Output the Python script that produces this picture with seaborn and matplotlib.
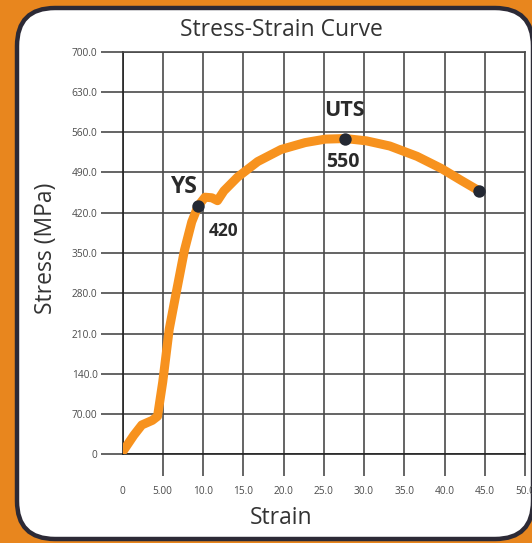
import matplotlib
matplotlib.use("Agg")
import matplotlib.pyplot as plt
import seaborn as sns
import pandas as pd
from matplotlib.patches import FancyBboxPatch

# ---------------- data ----------------
strain = [0.1, 1.4, 2.4, 3.7, 4.35, 5.0, 5.8, 6.7, 7.7, 8.6, 9.4, 10.25, 11.1, 11.8,
          12.6, 14.3, 16.8, 19.7, 22.7, 25.2, 27.7, 30.3, 33.2, 36.6, 39.6, 42.1, 44.3]
stress = [6, 33, 51, 59, 66, 126, 217, 283, 355, 404, 432, 447, 446, 441,
          458, 482, 509, 530, 542, 548, 549, 545, 536, 518, 497, 476, 458]

marker_strain = [9.4, 27.7, 44.3]
marker_stress = [432, 549, 458]

labels = ["YS", "420", "UTS", "550"]
label_strain = [7.55, 12.6, 27.55, 27.4]
label_stress = [465, 389, 597, 509]
label_sizes = [16.5, 12.5, 15.5, 14]

x_ticks = [0, 5, 10, 15, 20, 25, 30, 35, 40, 45, 50]
x_tick_labels = ["0", "5.00", "10.0", "15.0", "20.0", "25.0", "30.0", "35.0", "40.0", "45.0", "50.0"]
y_ticks = [0, 70, 140, 210, 280, 350, 420, 490, 560, 630, 700]
y_tick_labels = ["0", "70.00", "140.0", "210.0", "280.0", "350.0", "420.0", "490.0", "560.0", "630.0", "700.0"]

title = "Stress-Strain Curve"
x_label = "Strain"
y_label = "Stress (MPa)"

# ---------------- style ----------------
sns.set_theme(style="white")
plt.rcParams['font.family'] = ['Open Sans', 'DejaVu Sans']

W, H = 532, 543
fig = plt.figure(figsize=(W / 100, H / 100), dpi=100)
fig.patch.set_facecolor('#E8861E')

# card background
card = FancyBboxPatch((0.17, 0.04), 5.16, 5.31,
                      boxstyle="round,pad=0,rounding_size=0.38",
                      transform=fig.dpi_scale_trans, facecolor='white',
                      edgecolor='#2c2a36', linewidth=3.2, zorder=-10)
fig.patches.append(card)

ax = fig.add_axes([122.5 / W, 1 - 454.3 / H, (525 - 122.5) / W, (454.3 - 51.7) / H])
ax.set_zorder(1)
ax.set_facecolor('none')

grid_color = '#4a4a4a'
df = pd.DataFrame({"strain": strain, "stress": stress})
sns.lineplot(data=df, x="strain", y="stress", sort=False, ax=ax, color='#F7921E',
             linewidth=6.5, solid_capstyle='round', solid_joinstyle='round', zorder=3)
mdf = pd.DataFrame({"strain": marker_strain, "stress": marker_stress})
sns.scatterplot(data=mdf, x="strain", y="stress", ax=ax, color='#232833', s=80,
                edgecolor='#232833', linewidth=0, zorder=4)

for txt, xs, ys, fs in zip(labels, label_strain, label_stress, label_sizes):
    ax.text(xs, ys, txt, ha='center', va='center', fontsize=fs, fontweight='bold',
            color='#2a2a2a', zorder=5)

ax.set_xlim(0, 50)
ax.set_ylim(0, 700)
ax.set_xticks(x_ticks)
ax.set_xticklabels(x_tick_labels)
ax.set_yticks(y_ticks)
ax.set_yticklabels(y_tick_labels)
ax.grid(True, color=grid_color, linewidth=1.2, zorder=1)
ax.set_axisbelow(True)
for s in ax.spines.values():
    s.set_color(grid_color)
    s.set_linewidth(1.2)
ax.spines['bottom'].set_color('#222222')
ax.spines['left'].set_color('#222222')
ax.tick_params(axis='both', which='major', direction='out', length=16, width=1.2,
               color=grid_color, labelsize=7.3, labelcolor='#4a4a4a',
               bottom=True, left=True, top=False, right=False)
ax.tick_params(axis='x', pad=7)
ax.tick_params(axis='y', pad=2)
ax.xaxis.get_major_ticks()[0].tick1line.set_visible(False)
ax.set_xlabel("")
ax.set_ylabel("")

fig.text(281.6 / W, 1 - 30.5 / H, title, ha='center', va='center', fontsize=16.5, color='#333333')
fig.text(281.6 / W, 1 - 518 / H, x_label, ha='center', va='center', fontsize=16.5, color='#333333')
fig.text(46 / W, 1 - 248 / H, y_label, ha='center', va='center', rotation=90, fontsize=16.5,
         color='#333333')

fig.savefig("out.png", dpi=100, facecolor=fig.get_facecolor())
